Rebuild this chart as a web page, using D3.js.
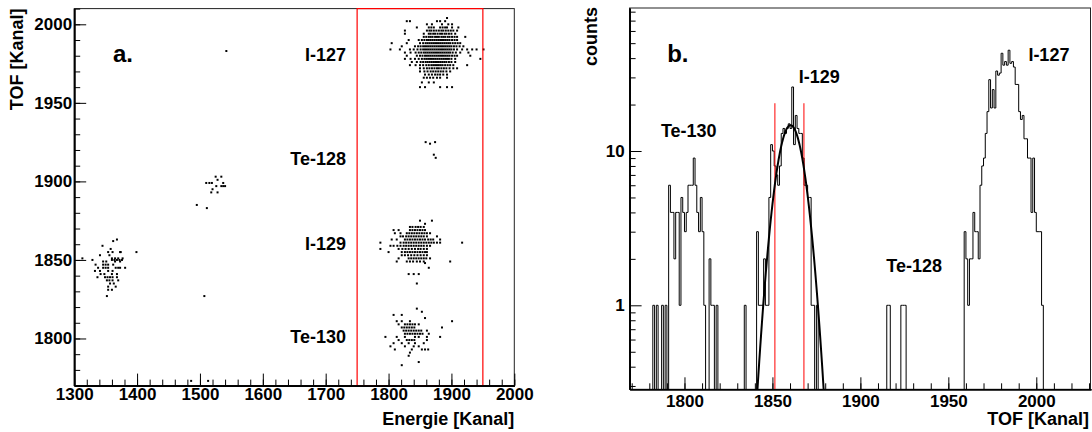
<!DOCTYPE html>
<html>
<head>
<meta charset="utf-8">
<script src="https://cdn.jsdelivr.net/npm/d3@7"></script>
<style>
  html, body { margin: 0; padding: 0; background: #fff; }
  svg { display: block; font-family: "Liberation Sans", Arial, Helvetica, sans-serif; font-weight: bold; }
</style>
</head>
<body>
<svg id="chart" width="1092" height="432"></svg>
<script>
// ---- panel a: Energie vs TOF scatter, rows of [TOF, [Energie...]] ----
const i127Rows = [
  [2004, [1893]],
  [2002, [1829, 1834, 1877, 1882, 1890]],
  [2000, [1861, 1869, 1885, 1895, 1901]],
  [1998, [1845, 1864, 1868, 1872, 1882, 1886, 1890, 1893, 1901, 1911]],
  [1996, [1826, 1861, 1865, 1868, 1872, 1876, 1880, 1884, 1887, 1891, 1895, 1899, 1903, 1909]],
  [1994, [1826, 1856, 1864, 1867, 1871, 1874, 1878, 1882, 1885, 1889, 1892, 1896, 1900, 1906]],
  [1992, [1856, 1860, 1864, 1867, 1870, 1874, 1877, 1880, 1884, 1887, 1890, 1894, 1897, 1901, 1905, 1909, 1922]],
  [1990, [1832, 1848, 1853, 1857, 1861, 1864, 1867, 1870, 1873, 1876, 1879, 1882, 1885, 1888, 1891, 1894, 1897, 1901, 1905, 1909]],
  [1988, [1805, 1829, 1850, 1855, 1859, 1862, 1865, 1868, 1871, 1874, 1877, 1880, 1883, 1886, 1889, 1892, 1895, 1898, 1902, 1906, 1910, 1914]],
  [1986, [1821, 1842, 1847, 1851, 1855, 1858, 1861, 1864, 1867, 1870, 1873, 1876, 1879, 1882, 1885, 1888, 1891, 1894, 1897, 1900, 1904, 1908, 1913, 1919]],
  [1984, [1803, 1818, 1834, 1840, 1846, 1851, 1855, 1858, 1861, 1864, 1867, 1870, 1873, 1876, 1879, 1882, 1885, 1888, 1891, 1894, 1897, 1900, 1904, 1909, 1917, 1925, 1933, 1940, 1951]],
  [1982, [1826, 1835, 1843, 1848, 1852, 1856, 1859, 1862, 1865, 1868, 1871, 1874, 1877, 1880, 1883, 1886, 1889, 1892, 1895, 1898, 1902, 1907, 1914, 1927]],
  [1980, [1829, 1845, 1850, 1854, 1858, 1861, 1864, 1867, 1870, 1873, 1876, 1879, 1882, 1885, 1888, 1891, 1894, 1897, 1901, 1905, 1909, 1930]],
  [1978, [1826, 1835, 1842, 1848, 1853, 1857, 1860, 1863, 1866, 1869, 1872, 1875, 1878, 1881, 1884, 1887, 1890, 1893, 1896, 1900, 1906, 1946]],
  [1976, [1837, 1845, 1851, 1855, 1859, 1862, 1865, 1868, 1871, 1874, 1877, 1880, 1883, 1886, 1889, 1892, 1896, 1900, 1906]],
  [1974, [1834, 1843, 1850, 1855, 1860, 1864, 1868, 1871, 1874, 1877, 1880, 1883, 1886, 1890, 1894, 1898, 1903, 1925]],
  [1972, [1850, 1856, 1861, 1865, 1869, 1873, 1877, 1880, 1884, 1888, 1892, 1897, 1903, 1909]],
  [1970, [1850, 1857, 1862, 1867, 1871, 1875, 1879, 1883, 1887, 1892, 1898]],
  [1968, [1858, 1864, 1869, 1874, 1878, 1882, 1887, 1893]],
  [1966, [1856, 1861, 1866, 1871, 1877, 1882, 1893]],
  [1963, [1853, 1864, 1872]],
  [1960, [1850, 1858, 1882, 1893, 1901]]
];
const te128Rows = [
  [1925, [1859, 1874]],
  [1924, [1866]],
  [1917, [1872]],
  [1915, [1875]]
];
const i129Rows = [
  [1875, [1850, 1869]],
  [1873, [1858]],
  [1871, [1834, 1838, 1843, 1847, 1851, 1856]],
  [1869, [1808, 1816, 1834, 1838, 1842, 1846, 1850, 1854, 1858]],
  [1867, [1810, 1819, 1829, 1833, 1837, 1841, 1845, 1849, 1853, 1857, 1861, 1866]],
  [1865, [1819, 1823, 1828, 1832, 1836, 1840, 1844, 1848, 1852, 1856, 1861, 1877]],
  [1863, [1805, 1813, 1826, 1830, 1834, 1838, 1842, 1846, 1850, 1854, 1858, 1863, 1867, 1871, 1882]],
  [1861, [1787, 1819, 1824, 1828, 1832, 1836, 1840, 1844, 1848, 1852, 1856, 1860, 1864, 1868, 1872, 1877, 1882, 1917]],
  [1859, [1803, 1808, 1814, 1819, 1824, 1828, 1832, 1836, 1840, 1844, 1848, 1852, 1856, 1861, 1866]],
  [1857, [1787, 1816, 1822, 1827, 1832, 1837, 1842, 1847, 1851, 1856, 1861]],
  [1855, [1800, 1821, 1826, 1830, 1834, 1838, 1842, 1846, 1850, 1854, 1858, 1861]],
  [1853, [1821, 1826, 1831, 1836, 1841, 1846, 1851, 1856, 1861]],
  [1851, [1816, 1832, 1836, 1840, 1844, 1848, 1852, 1856, 1860, 1866]],
  [1849, [1813, 1829, 1834, 1839, 1845, 1850, 1856, 1898]],
  [1848, [1858]],
  [1845, [1864]],
  [1841, [1832, 1840, 1848]],
  [1835, [1845]]
];
const te130Rows = [
  [1819, [1845]],
  [1817, [1853]],
  [1815, [1808, 1821]],
  [1813, [1858]],
  [1811, [1813, 1821, 1834, 1901]],
  [1809, [1816, 1826, 1830, 1834, 1838, 1842, 1848]],
  [1807, [1821, 1825, 1829, 1833, 1837, 1841, 1885]],
  [1805, [1824, 1828, 1832, 1836, 1840, 1844, 1848, 1852, 1861]],
  [1803, [1826, 1830, 1834, 1838, 1842, 1846, 1850, 1854, 1864]],
  [1801, [1795, 1813, 1826, 1842, 1848, 1861, 1882]],
  [1799, [1816, 1829, 1833, 1837, 1841, 1861]],
  [1797, [1808, 1821, 1832, 1842, 1856]],
  [1795, [1803, 1826, 1840, 1848]],
  [1793, [1810, 1837, 1853, 1858, 1863]],
  [1791, [1834]],
  [1789, [1832]],
  [1785, [1848]],
  [1783, [1821]]
];
const lowRows = [
  [1983, [1542]],
  [1903, [1525, 1534]],
  [1901, [1528]],
  [1899, [1510, 1515, 1519, 1537]],
  [1897, [1526, 1534, 1537, 1540]],
  [1895, [1520]],
  [1893, [1518, 1528]],
  [1885, [1495]],
  [1883, [1511]],
  [1863, [1368]],
  [1862, [1362]],
  [1859, [1345]],
  [1857, [1358]],
  [1855, [1354, 1361, 1373, 1374, 1399]],
  [1853, [1341, 1356]],
  [1851, [1313, 1360, 1365, 1370, 1377]],
  [1850, [1329, 1360, 1364, 1368, 1372, 1376]],
  [1849, [1346, 1351, 1365, 1373]],
  [1847, [1334, 1346, 1350, 1354, 1362]],
  [1845, [1338, 1346, 1350, 1354, 1366, 1370, 1373, 1381]],
  [1843, [1333, 1341, 1354, 1361]],
  [1841, [1342, 1348, 1360, 1368]],
  [1839, [1337, 1349, 1353, 1357, 1361, 1368]],
  [1837, [1352, 1356, 1361, 1370]],
  [1835, [1357, 1363]],
  [1833, [1354, 1366]],
  [1831, [1354, 1360]],
  [1827, [1352, 1507]],
  [1773, [1486, 1513]]
];
const energyCut = [1750, 1950];
const energyTicks = [1300, 1400, 1500, 1600, 1700, 1800, 1900, 2000];
const tofTicks = [1800, 1850, 1900, 1950, 2000];
const scatterLabels = [
  {text: 'I-127', tof: 1976.6},
  {text: 'Te-128', tof: 1910.4},
  {text: 'I-129', tof: 1856.3},
  {text: 'Te-130', tof: 1797.1}
];

// ---- panel b: TOF histogram (1 channel bins), log scale ----
const histChannels = [
  1782, 1784, 1787, 1789, 1791, 1792, 1793, 1794, 1795, 1796, 1797, 1798, 1799, 1800,
  1801, 1802, 1803, 1804, 1805, 1806, 1807, 1808, 1809, 1810, 1811, 1814, 1815, 1816, 1818,
  1834, 1841, 1842, 1843, 1844, 1845, 1846, 1847, 1848, 1849, 1850, 1851, 1852, 1853, 1854,
  1855, 1856, 1857, 1858, 1859, 1860, 1861, 1862, 1863, 1864, 1865, 1866, 1867, 1868, 1869,
  1870, 1871, 1872, 1873, 1875,
  1915, 1916, 1923, 1924, 1925,
  1959, 1960, 1961, 1962, 1963, 1964, 1965, 1966, 1967, 1968, 1969, 1970, 1971, 1972, 1973,
  1974, 1975, 1976, 1977, 1978, 1979, 1980, 1981, 1982, 1983, 1984, 1985, 1986, 1987, 1988,
  1989, 1990, 1991, 1992, 1993, 1994, 1995, 1996, 1997, 1998, 1999, 2000, 2001, 2002, 2003
];
const histCounts = [
  1, 1, 1, 1, 6, 4, 4, 2, 4, 4, 1, 5, 4, 3,
  4, 6, 6, 6, 9, 6, 4, 3, 5, 3, 1, 2, 1, 1, 1,
  1, 3, 1, 1, 1, 2, 1, 1, 5, 11, 10, 8, 7, 6, 8,
  13, 14, 13, 14, 15, 14, 26, 11, 17, 14, 13, 13, 9, 6, 6,
  5, 5, 1, 1, 1,
  1, 1, 1, 1, 1,
  3, 2, 1, 2, 2, 4, 3, 3, 2, 6, 8, 9, 13, 18, 29,
  19, 25, 19, 33, 31, 32, 43, 36, 38, 36, 45, 37, 38, 35, 27,
  27, 18, 16, 17, 12, 12, 9, 9, 4, 9, 4, 3, 3, 3, 1
];
// Gaussian fit of the I-129 peak
const fitAmp = 14.7, fitMean = 1860.3, fitSigma = 6.7;
const fitRange = [1835, 1886];
const tofCut = [1851.4, 1867.9];
const tofCutTop = 20.4;
const histTicks = [1800, 1850, 1900, 1950, 2000];
const countTicks = [1, 10];
const countMinor = [0.3, 0.4, 0.5, 0.6, 0.7, 0.8, 0.9, 2, 3, 4, 5, 6, 7, 8, 9, 20, 30, 40, 50, 60, 70, 80];
const histLabels = [
  {text: 'Te-130', tof: 1786.6, count: 12.4},
  {text: 'I-129', tof: 1865.0, count: 27.5},
  {text: 'Te-128', tof: 1914.7, count: 1.65},
  {text: 'I-127', tof: 1995.5, count: 38.3}
];

const svg = d3.select('#chart');
const FONT = '"Liberation Sans", Arial, Helvetica, sans-serif';

function styleAxis(g, size) {
  g.attr('font-family', FONT).attr('font-size', size).attr('font-weight', 'bold');
  g.select('.domain').attr('stroke', '#000').attr('stroke-width', 1.6);
  g.selectAll('.tick line').attr('stroke', '#000').attr('stroke-width', 1);
  g.selectAll('.tick text').attr('fill', '#000');
}

// =================== panel a ===================
const xE = d3.scaleLinear().domain([1300, 2000]).range([74.2, 514.3]);
const yL = d3.scaleLinear().domain([1770, 2010]).range([385.6, 8.6]);

const pa = svg.append('g');

pa.append('rect')
  .attr('x', xE(1300)).attr('y', yL(2010))
  .attr('width', xE(2000) - xE(1300)).attr('height', yL(1770) - yL(2010))
  .attr('fill', 'none').attr('stroke', '#222').attr('stroke-width', 1);

const points = [];
[i127Rows, te128Rows, i129Rows, te130Rows, lowRows].forEach(rows => {
  rows.forEach(r => r[1].forEach(e => points.push([e, r[0]])));
});

pa.append('g')
  .selectAll('rect')
  .data(points)
  .join('rect')
  .attr('x', d => xE(d[0]) - 1)
  .attr('y', d => yL(d[1]) - 1)
  .attr('width', 2)
  .attr('height', 2)
  .attr('fill', '#000');

// red energy window
pa.append('rect')
  .attr('x', xE(energyCut[0])).attr('y', yL(2010))
  .attr('width', xE(energyCut[1]) - xE(energyCut[0]))
  .attr('height', yL(1770) - yL(2010))
  .attr('fill', 'none').attr('stroke', '#f00').attr('stroke-width', 1.2);

// x axis (ticks inside)
pa.append('g')
  .attr('transform', 'translate(0,' + yL(1770) + ')')
  .call(d3.axisBottom(xE).tickValues(d3.range(1300, 2001, 20)).tickSize(-6).tickSizeOuter(0).tickFormat(''))
  .call(g => styleAxis(g, 17));
pa.append('g')
  .attr('transform', 'translate(0,' + yL(1770) + ')')
  .call(d3.axisBottom(xE).tickValues(energyTicks).tickSize(-12).tickSizeOuter(0).tickPadding(2.5).tickFormat(d3.format('d')))
  .call(g => styleAxis(g, 17));

// y axis
pa.append('g')
  .attr('transform', 'translate(' + xE(1300) + ',0)')
  .call(d3.axisLeft(yL).tickValues(d3.range(1770, 2011, 10)).tickSize(-6).tickSizeOuter(0).tickFormat(''))
  .call(g => styleAxis(g, 17));
pa.append('g')
  .attr('transform', 'translate(' + xE(1300) + ',0)')
  .call(d3.axisLeft(yL).tickValues(tofTicks).tickSize(-12).tickSizeOuter(0).tickPadding(2).tickFormat(d3.format('d')))
  .call(g => styleAxis(g, 17));

pa.append('text')
  .attr('x', xE(2000)).attr('y', 425)
  .attr('text-anchor', 'end').attr('font-size', 18)
  .text('Energie [Kanal]');
pa.append('text')
  .attr('transform', 'translate(22.5,' + yL(2010) + ') rotate(-90)')
  .attr('text-anchor', 'end').attr('font-size', 18)
  .text('TOF [Kanal]');
pa.append('text')
  .attr('x', 113).attr('y', 61.7).attr('font-size', 24)
  .text('a.');
pa.append('g')
  .selectAll('text')
  .data(scatterLabels)
  .join('text')
  .attr('x', 346).attr('y', d => yL(d.tof))
  .attr('text-anchor', 'end').attr('font-size', 18)
  .text(d => d.text);

// =================== panel b ===================
const xT = d3.scaleLinear().domain([1768.8, 2031.1]).range([629.6, 1091]);
const yC = d3.scaleLog().domain([0.2855, 84.5]).range([389.3, 8]);

const pb = svg.append('g');

pb.append('defs').append('clipPath').attr('id', 'clipB')
  .append('rect')
  .attr('x', xT.range()[0]).attr('y', yC.range()[1])
  .attr('width', xT.range()[1] - xT.range()[0])
  .attr('height', yC.range()[0] - yC.range()[1]);

pb.append('rect')
  .attr('x', xT.range()[0]).attr('y', yC.range()[1])
  .attr('width', xT.range()[1] - xT.range()[0] - 0.5)
  .attr('height', yC.range()[0] - yC.range()[1])
  .attr('fill', 'none').attr('stroke', '#222').attr('stroke-width', 1);

const countByChannel = new Map(histChannels.map((c, i) => [c, histCounts[i]]));
const steps = d3.range(1769, 2031).map(c => [c, countByChannel.get(c) || 0]);
steps.push([2031, 0]);

const plotB = pb.append('g').attr('clip-path', 'url(#clipB)');

plotB.append('path')
  .datum(steps)
  .attr('fill', 'none')
  .attr('stroke', '#000')
  .attr('stroke-width', 1)
  .attr('d', d3.line()
    .curve(d3.curveStepAfter)
    .x(d => xT(d[0]))
    .y(d => d[1] > 0 ? yC(d[1]) : 400));

plotB.selectAll('line.cut')
  .data(tofCut)
  .join('line')
  .attr('class', 'cut')
  .attr('x1', d => xT(d)).attr('x2', d => xT(d))
  .attr('y1', yC(tofCutTop)).attr('y2', yC.range()[0])
  .attr('stroke', '#f00').attr('stroke-width', 1);

const gauss = t => fitAmp * Math.exp(-0.5 * Math.pow((t - fitMean) / fitSigma, 2));
plotB.append('path')
  .datum(d3.range(fitRange[0], fitRange[1] + 0.01, 0.25))
  .attr('fill', 'none')
  .attr('stroke', '#000')
  .attr('stroke-width', 2)
  .attr('d', d3.line()
    .x(d => xT(d))
    .y(d => Math.min(yC(Math.max(gauss(d), 0.05)), 420)));

// x axis
pb.append('g')
  .attr('transform', 'translate(0,' + yC.range()[0] + ')')
  .call(d3.axisBottom(xT).tickValues(d3.range(1770, 2031, 10)).tickSize(-6).tickSizeOuter(0).tickFormat(''))
  .call(g => styleAxis(g, 17));
pb.append('g')
  .attr('transform', 'translate(0,' + yC.range()[0] + ')')
  .call(d3.axisBottom(xT).tickValues(histTicks).tickSize(-12).tickSizeOuter(0).tickPadding(5.5).tickFormat(d3.format('d')))
  .call(g => styleAxis(g, 17));

// y axis (log)
pb.append('g')
  .attr('transform', 'translate(' + xT.range()[0] + ',0)')
  .call(d3.axisLeft(yC).tickValues(countMinor).tickSize(-6).tickSizeOuter(0).tickFormat(''))
  .call(g => styleAxis(g, 17));
pb.append('g')
  .attr('transform', 'translate(' + xT.range()[0] + ',0)')
  .call(d3.axisLeft(yC).tickValues(countTicks).tickSize(-12).tickSizeOuter(0).tickPadding(5).tickFormat(d3.format('d')))
  .call(g => styleAxis(g, 17));

pb.append('text')
  .attr('x', 1089).attr('y', 425)
  .attr('text-anchor', 'end').attr('font-size', 18)
  .text('TOF [Kanal]');
pb.append('text')
  .attr('transform', 'translate(596.5,7) rotate(-90)')
  .attr('text-anchor', 'end').attr('font-size', 18)
  .text('counts');
pb.append('text')
  .attr('x', 667.2).attr('y', 61.7).attr('font-size', 24)
  .text('b.');
pb.append('g')
  .selectAll('text')
  .data(histLabels)
  .join('text')
  .attr('x', d => xT(d.tof)).attr('y', d => yC(d.count))
  .attr('font-size', 18)
  .text(d => d.text);
</script>
</body>
</html>
